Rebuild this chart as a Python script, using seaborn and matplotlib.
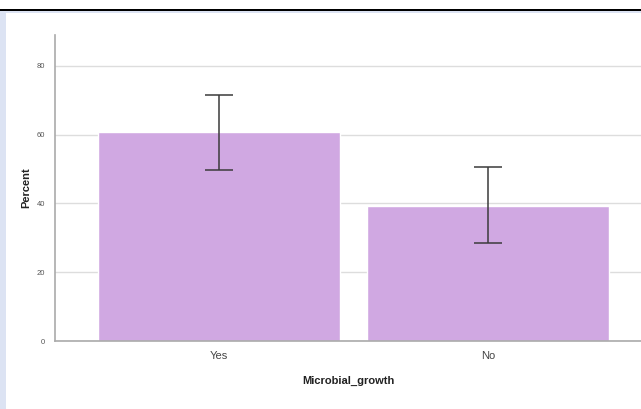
import matplotlib
matplotlib.use("Agg")
import matplotlib.pyplot as plt
import seaborn as sns
import pandas as pd

# Share of samples with / without microbial growth, with 95% CI bounds
categories = ["Yes", "No"]
percent = [60.7, 39.3]
ci_low = [49.6, 28.6]
ci_high = [71.5, 50.7]
y_ticks = [0, 20, 40, 60, 80]

df = pd.DataFrame({"Microbial_growth": categories, "Percent": percent})

sns.set_style("white")
plt.rcParams["font.family"] = ["Liberation Sans", "DejaVu Sans"]
fig = plt.figure(figsize=(6.41, 4.09), dpi=100)

W, H = 641, 409
left, right, top, bottom = 55, 641, 35, 341
ax = fig.add_axes([left / W, (H - bottom) / H, (right - left) / W, (bottom - top) / H])

sns.barplot(data=df, x="Microbial_growth", y="Percent", order=categories,
            color="#d0a8e2", saturation=1, width=0.9, errorbar=None, ax=ax,
            zorder=2)

# confidence interval whiskers
yerr = [[p - lo for p, lo in zip(percent, ci_low)],
        [hi - p for p, hi in zip(percent, ci_high)]]
ax.errorbar(range(len(categories)), percent, yerr=yerr, fmt="none",
            ecolor="#3c3c3c", elinewidth=1.3, capsize=10, capthick=1.3,
            alpha=0.85, zorder=3)

ax.set_xlim(-0.61, 1.57)
ax.set_ylim(0, 89)
ax.set_yticks(y_ticks)
ax.set_yticklabels([str(t) for t in y_ticks], fontsize=5.5, color="#555555")
ax.tick_params(axis="y", length=0, pad=7)
ax.tick_params(axis="x", length=0, pad=7, labelsize=8, labelcolor="#444444")
ax.yaxis.grid(True, color="#dddddd", linewidth=1, zorder=0)
ax.set_axisbelow(True)

for s in ["top", "right"]:
    ax.spines[s].set_visible(False)
for s in ["left", "bottom"]:
    ax.spines[s].set_color("#aaaaaa")
    ax.spines[s].set_linewidth(1.2)

ax.set_xlabel("Microbial_growth", fontsize=8, fontweight="bold", color="#222222",
              labelpad=11)
ax.set_ylabel("Percent", fontsize=8, fontweight="bold", color="#222222",
              labelpad=4)

# page frame: dark rule at the top, pale strip on the left
fig.add_artist(plt.Rectangle((0, 1 - 11 / H), 1, 2.5 / H, transform=fig.transFigure,
                             color="black", lw=0))
fig.add_artist(plt.Rectangle((0, 1 - 12.5 / H), 1, 1.5 / H, transform=fig.transFigure,
                             color="#dce3f3", lw=0))
fig.add_artist(plt.Rectangle((0, 0), 6 / W, 1 - 12 / H, transform=fig.transFigure,
                             color="#dce3f3", lw=0))

fig.savefig("out.png", dpi=100)
